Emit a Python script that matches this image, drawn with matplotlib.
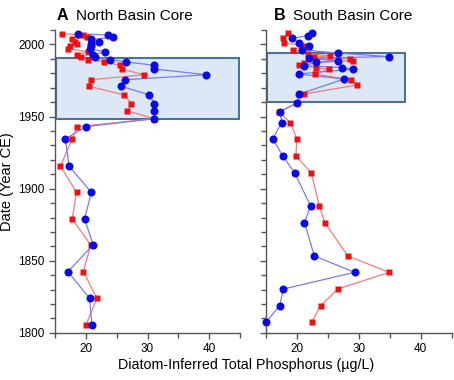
import matplotlib
matplotlib.use("Agg")
import matplotlib.pyplot as plt
from matplotlib.patches import Rectangle
from matplotlib.ticker import MultipleLocator

plt.rcParams['font.family'] = ['Liberation Sans', 'DejaVu Sans']

# North basin core (panel A)
north_years = [2007.5, 2006.5, 2005, 2003.5, 2002, 2000.5, 1999, 1997, 1995, 1993,
               1991.5, 1989.5, 1988, 1985.5, 1983, 1979, 1975.5, 1971, 1965, 1959,
               1954, 1948.5, 1943, 1934.5, 1915.5, 1897.5, 1879, 1861, 1842.5, 1824, 1805.5]
north_red = [16.2, 19.6, 20.2, 17.7, 18.2, 18.6, 17.4, 17.1, 20.4, 18.6,
             19.2, 20.3, 23.0, 25.5, 25.8, 29.4, 20.8, 20.5, 26.2, 27.4,
             26.7, 31.1, 18.6, 17.8, 15.9, 18.5, 17.8, 20.8, 19.6, 21.8, 20.0]
north_blue = [18.7, 23.6, 24.4, 20.8, 22.1, 20.9, 20.8, 20.6, 23.1, 21.2,
              21.5, 23.9, 26.5, 31.1, 31.1, 39.5, 26.3, 25.7, 30.3, 31.1,
              31.1, 31.1, 20.0, 16.7, 17.3, 20.9, 19.8, 21.2, 17.1, 20.6, 21.0]

# South basin core (panel B)
south_red_years = [2007.8, 2004.3, 2001.3, 1999, 1996.3, 1993.7, 1992.1, 1991, 1989.8, 1988.7,
                   1987.1, 1985.9, 1984, 1982.9, 1979.5, 1975.5, 1971.9, 1965.6, 1959.4, 1953.4,
                   1945.8, 1934.5, 1922.7, 1911.1, 1888, 1876.5, 1853.4, 1842, 1830.4, 1818.9, 1807.4]
south_red = [18.6, 17.8, 17.9, 21.1, 19.4, 21.7, 25.3, 22.7, 28.5, 29.1,
             21.1, 20.3, 23.0, 25.2, 22.9, 28.7, 29.7, 21.1, 20.0, 17.1,
             18.9, 20.0, 19.8, 22.3, 23.6, 24.5, 28.2, 34.9, 26.6, 23.8, 22.4]
south_blue_years = [2007.8, 2006, 2004.3, 2001.3, 1998.6, 1996.3, 1994, 1991.6, 1990.3, 1988.7,
                    1987.5, 1985.2, 1984, 1982.9, 1979.5, 1976, 1965.6, 1959.4, 1953.4, 1945.8,
                    1934.5, 1922.7, 1911.1, 1888, 1876.5, 1853.4, 1842, 1830.4, 1818.9, 1807.4]
south_blue = [22.5, 21.7, 19.2, 20.3, 21.9, 20.8, 26.6, 34.8, 21.9, 26.6,
              23.0, 21.1, 27.3, 29.0, 20.3, 27.6, 20.4, 20.0, 17.3, 17.5,
              16.1, 17.7, 19.6, 22.2, 21.2, 22.8, 29.3, 17.8, 17.2, 15.0]

# highlighted periods (x0, x1, y0, y1)
north_box = (15.2, 44.8, 1948, 1990.5)
south_box = (15.1, 37.5, 1960, 1994)

fig = plt.figure(figsize=(4.54, 3.8), dpi=100)
axA = fig.add_axes([0.121, 0.124, 0.408, 0.797])
axB = fig.add_axes([0.586, 0.124, 0.409, 0.797])

red_mk, red_ln = '#ee1111', '#f47a7a'
blue_mk, blue_ln = '#0a0ae6', '#7a7af0'

for ax, box, ry, rv, by, bv in [
        (axA, north_box, north_years, north_red, north_years, north_blue),
        (axB, south_box, south_red_years, south_red, south_blue_years, south_blue)]:
    x0, x1, y0, y1 = box
    ax.add_patch(Rectangle((x0, y0), x1 - x0, y1 - y0, facecolor='#dce8f5',
                           edgecolor='#4b7399', linewidth=1.5, zorder=1))
    ax.plot(rv, ry, '-', color=red_ln, lw=0.9, zorder=2)
    ax.plot(bv, by, '-', color=blue_ln, lw=0.9, zorder=2)
    ax.plot(rv, ry, 's', color=red_mk, ms=4.6, mec='none', zorder=3, clip_on=False)
    ax.plot(bv, by, 'o', color=blue_mk, ms=5.8, mec='none', zorder=4, clip_on=False)
    ax.set_xlim(15, 45)
    ax.set_ylim(1800, 2010)
    ax.spines['top'].set_visible(False)
    ax.spines['right'].set_visible(False)
    for s in ['left', 'bottom']:
        ax.spines[s].set_color('#555555')
        ax.spines[s].set_linewidth(1.0)
    ax.xaxis.set_minor_locator(MultipleLocator(5))
    ax.yaxis.set_major_locator(MultipleLocator(50))
    ax.yaxis.set_minor_locator(MultipleLocator(10))
    ax.set_xticks([20, 30, 40])
    ax.tick_params(which='both', direction='out', color='#555555', labelsize=8.5)
    ax.tick_params(which='major', length=4, width=1)
    ax.tick_params(which='minor', length=3.5, width=1)

axB.tick_params(axis='y', labelleft=False)
axA.set_ylabel('Date (Year CE)', fontsize=10.5)
axA.yaxis.set_label_coords(-0.222, 0.5)

fig.text(0.125, 0.958, 'A', fontsize=11.5, fontweight='bold', va='center')
fig.text(0.168, 0.958, 'North Basin Core', fontsize=11, va='center')
fig.text(0.603, 0.958, 'B', fontsize=11.5, fontweight='bold', va='center')
fig.text(0.646, 0.958, 'South Basin Core', fontsize=11, va='center')
fig.text(0.543, 0.04, 'Diatom-Inferred Total Phosphorus (\u00b5g/L)', fontsize=10.3,
         ha='center', va='center')

fig.savefig('out.png', dpi=100)
